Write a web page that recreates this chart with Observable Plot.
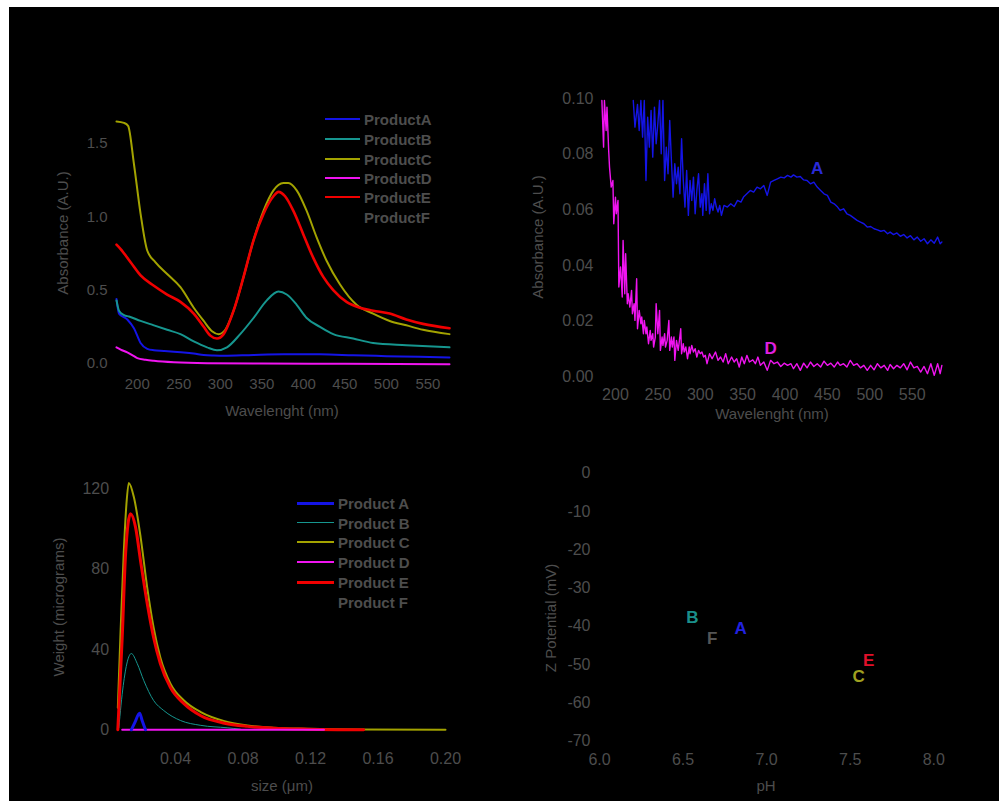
<!DOCTYPE html>
<html><head><meta charset="utf-8">
<script src="https://cdn.jsdelivr.net/npm/d3@7"></script>
<script src="https://cdn.jsdelivr.net/npm/@observablehq/plot@0.6"></script>
<style>
body{margin:0;background:#fff;}
#root{position:relative;width:1000px;height:801px;background:#fff;overflow:hidden;font-family:"Liberation Sans",Arial,sans-serif;}
#bg{position:absolute;left:9px;top:7px;width:990px;height:794px;background:#000;}
.abs{position:absolute;}
.ttl{position:absolute;color:#4d4d4d;font-size:15px;white-space:nowrap;transform:translate(-50%,-50%);}
.ttl.rot{transform:translate(-50%,-50%) rotate(-90deg);}
.leg{position:absolute;color:#4d4d4d;font-size:15px;font-weight:bold;white-space:nowrap;}
.leg .ln{position:absolute;height:0;}
.leg .tx{position:absolute;transform:translateY(-50%);}
</style></head>
<body><div id="root"><div id="bg"></div></div>
<script>
// ---------- shared ----------
const productNames = ["Product A","Product B","Product C","Product D","Product E","Product F"];
const legend1Labels = ["ProductA","ProductB","ProductC","ProductD","ProductE","ProductF"];
const productColors = ["#1414e6","#16968f","#a3a300","#f014f0","#f00000","#000000"];

// ---------- panel 1: UV-Vis spectra ----------
const p1WlA  = [175,178,188,196,204,212,220,232,244,256,268,280,292,304,340,376,420,460,500,540,576];
const p1AbsA = [0.44,0.34,0.30,0.24,0.14,0.10,0.09,0.085,0.08,0.075,0.068,0.058,0.054,0.052,0.058,0.062,0.062,0.056,0.05,0.045,0.041];
const p1WlB  = [175,178,184,190,204,220,236,252,268,284,296,308,324,340,356,370,380,392,404,420,436,460,484,524,576];
const p1AbsB = [0.43,0.36,0.33,0.32,0.29,0.26,0.23,0.20,0.15,0.11,0.09,0.11,0.20,0.31,0.43,0.49,0.47,0.40,0.31,0.25,0.20,0.17,0.14,0.125,0.11];
const p1WlC  = [175,184,189,196,204,212,222,236,252,268,280,290,298,306,316,328,340,352,364,376,382,392,404,416,428,444,464,484,504,524,544,576];
const p1AbsC = [1.65,1.64,1.62,1.36,1.02,0.77,0.69,0.61,0.52,0.38,0.29,0.22,0.20,0.23,0.36,0.59,0.84,1.04,1.18,1.23,1.23,1.18,1.04,0.86,0.70,0.54,0.40,0.34,0.29,0.26,0.23,0.20];
const p1WlD  = [175,180,188,196,200,210,220,244,284,350,450,576];
const p1AbsD = [0.11,0.095,0.075,0.05,0.036,0.025,0.018,0.008,0.002,0.0,-0.002,-0.005];
const p1WlE  = [175,180,192,204,220,236,252,268,280,288,296,304,316,328,340,352,364,370,378,388,400,412,424,436,452,468,484,504,524,544,576];
const p1AbsE = [0.81,0.78,0.69,0.60,0.53,0.47,0.42,0.34,0.25,0.19,0.17,0.20,0.36,0.59,0.84,1.02,1.14,1.17,1.14,1.04,0.88,0.72,0.59,0.50,0.42,0.38,0.36,0.34,0.30,0.27,0.24];
const p1XTicks = [200,250,300,350,400,450,500,550];
const p1YTicks = [0,0.5,1.0,1.5];

// ---------- panel 2: zoomed spectra A and D ----------
const p2WlA = [221,223,226,228,230,232,234,236,238,240,242,244,246,248,250,252,254,256,258,260,262,264,266,268,270,272,274,276,278,280,282,284,286,288,290,292,294,296,298,300,302,303,305,307,309,311,313,315,317,319,321,323,325,328,332,336,340,344,348,351,355,359,363,367,371,375,379,383,387,391,395,399,403,407,410,414,418,422,426,430,434,438,442,446,450,454,458,462,465,469,473,477,481,485,489,493,497,501,505,509,513,517,521,524,528,532,536,540,544,548,552,556,560,564,568,572,576,580,583,585];
const p2AbsA = [0.0994,0.0898,0.098,0.0886,0.0994,0.0862,0.0994,0.0706,0.0934,0.0826,0.0958,0.079,0.097,0.0838,0.091,0.0994,0.0802,0.0994,0.0706,0.0826,0.073,0.0922,0.0778,0.0646,0.0766,0.0694,0.0754,0.0658,0.0856,0.0706,0.061,0.0742,0.058,0.0706,0.0634,0.0718,0.0586,0.067,0.073,0.061,0.0658,0.058,0.0694,0.0598,0.073,0.0586,0.0622,0.0598,0.064,0.061,0.0592,0.0616,0.058,0.0616,0.061,0.0622,0.0612,0.0634,0.0628,0.0646,0.0658,0.067,0.0664,0.0682,0.0676,0.0688,0.0652,0.07,0.0706,0.0712,0.0718,0.0715,0.0724,0.0718,0.0726,0.0718,0.072,0.0708,0.0706,0.0694,0.07,0.0682,0.067,0.0658,0.0652,0.0628,0.0622,0.061,0.0598,0.0604,0.0586,0.058,0.0571,0.0562,0.0556,0.055,0.0538,0.054,0.0532,0.0528,0.0523,0.0526,0.0514,0.052,0.0511,0.0517,0.0505,0.0511,0.0499,0.0507,0.0492,0.0502,0.0487,0.0496,0.0478,0.0492,0.048,0.0502,0.0478,0.0484];
const p2WlD = [184,186,187,189,190,192,193,195,197,198,200,201,203,204,206,208,209,211,212,214,215,217,219,220,222,223,225,226,228,230,231,233,234,236,237,239,241,242,244,245,247,248,250,252,253,255,256,258,259,261,263,264,266,267,269,270,272,274,275,277,278,280,281,283,285,287,288,290,292,294,296,298,300,302,304,306,308,311,314,318,321,324,327,330,333,337,340,343,346,349,352,355,358,362,365,368,371,375,379,383,387,391,395,399,403,407,410,414,418,422,426,430,434,438,442,446,450,454,458,462,465,469,473,477,481,485,489,493,497,501,505,509,513,517,521,524,528,532,536,540,544,548,552,556,560,564,568,572,576,580,583,585];
const p2AbsD = [0.0994,0.0826,0.0994,0.0886,0.097,0.0814,0.0754,0.0682,0.0706,0.055,0.0646,0.0586,0.0634,0.0322,0.0394,0.0286,0.049,0.0298,0.0442,0.0262,0.0298,0.025,0.031,0.0226,0.0262,0.0202,0.0352,0.0172,0.0238,0.019,0.0214,0.0154,0.0202,0.0154,0.0178,0.0118,0.0166,0.013,0.0154,0.0106,0.0142,0.0262,0.0154,0.0238,0.0094,0.0142,0.0112,0.0154,0.0106,0.013,0.0202,0.0094,0.0142,0.0106,0.0142,0.0058,0.013,0.0094,0.0118,0.0172,0.0082,0.0118,0.0088,0.0106,0.0064,0.0106,0.0082,0.0112,0.0088,0.01,0.007,0.0094,0.0082,0.0088,0.007,0.0076,0.0046,0.0082,0.0064,0.0088,0.0058,0.007,0.0052,0.0082,0.0046,0.007,0.0052,0.0064,0.0034,0.007,0.0046,0.0076,0.0052,0.006,0.0046,0.007,0.004,0.0052,0.0022,0.0058,0.0046,0.0052,0.0036,0.0048,0.004,0.0046,0.0028,0.0046,0.0022,0.0048,0.0031,0.0052,0.0036,0.0046,0.0034,0.0055,0.004,0.0048,0.0034,0.0052,0.004,0.0046,0.0034,0.0058,0.004,0.0046,0.0031,0.004,0.0022,0.004,0.0024,0.0046,0.0031,0.004,0.0022,0.0043,0.0028,0.004,0.0031,0.0046,0.0024,0.0052,0.0031,0.0036,0.0016,0.0036,0.001,0.0046,0.0004,0.0046,0.001,0.004];
const p2Tags = ["A","D"];
const p2TagWl = [438,383];
const p2TagAbs = [0.0748,0.0100];
const p2TagColors = ["#2a2ad8","#e020e0"];
const p2XTicks = [200,250,300,350,400,450,500,550];
const p2YTicks = [0,0.02,0.04,0.06,0.08,0.10];

// ---------- panel 3: size distribution ----------
const p3SizeA = [0.0138,0.016,0.0187,0.0202,0.0222];
const p3WtA   = [0,3.8,8.3,4.6,0];
const p3SizeB = [0.0064,0.009,0.0138,0.0173,0.0212,0.027,0.033,0.043,0.055,0.0706,0.0785];
const p3WtB   = [1,22,38,33,24.5,14.6,9.6,4.6,2.2,1,0.3];
const p3SizeC = [0.0058,0.0073,0.0093,0.0109,0.0123,0.0153,0.0193,0.0232,0.027,0.031,0.037,0.045,0.055,0.069,0.0825,0.098,0.118,0.15,0.2];
const p3WtC   = [11,46,88,112.5,123,116,96,71,51,36,23,14.6,8.8,4.3,2.2,1,0.5,0.1,0];
const p3SizeD = [0.0084,0.128];
const p3WtD   = [0,0];
const p3SizeE = [0.0058,0.0084,0.0104,0.0133,0.0163,0.0193,0.0232,0.027,0.031,0.037,0.045,0.055,0.069,0.0825,0.098,0.118,0.1515];
const p3WtE   = [0,46,87.6,107.6,101,84,63,46,33,21,13,7,3.3,1.7,0.8,0.3,0];
const p3XTicks = [0.04,0.08,0.12,0.16,0.20];
const p3YTicks = [0,40,80,120];

// ---------- panel 4: zeta potential vs pH ----------
const p4Tags = ["B","F","A","E","C"];
const p4pH   = [6.555,6.674,6.844,7.611,7.551];
const p4Zeta = [-37.6,-43.2,-40.6,-48.9,-53.1];
const p4Colors = ["#1a8f8a","#555555","#2222e0","#e0102a","#a0a020"];
const p4XTicks = [6.0,6.5,7.0,7.5,8.0];
const p4YTicks = [0,-10,-20,-30,-40,-50,-60,-70];

// ---------- helpers ----------
const root = document.getElementById("root");
const FONT = "'Liberation Sans', Arial, sans-serif";
const TXT = "#4d4d4d";
function rows(xs, ys) { return xs.map((x, i) => ({x, y: ys[i]})); }
function panel(box, xDom, xPix, yDom, yPix, o) {
  const svg = Plot.plot({
    width: box.width, height: box.height,
    marginLeft: xPix[0] - box.left, marginRight: box.left + box.width - xPix[1],
    marginTop: yPix[1] - box.top, marginBottom: box.top + box.height - yPix[0],
    style: {background: "transparent", color: TXT, fontSize: o.fs + "px", fontFamily: FONT, overflow: "visible"},
    x: {domain: xDom, ticks: o.xt, tickFormat: o.xf, tickSize: 0, tickPadding: o.xpad, label: null},
    y: {domain: yDom, ticks: o.yt, tickFormat: o.yf, tickSize: 0, tickPadding: o.ypad, label: null},
    marks: o.marks
  });
  svg.style.position = "absolute";
  svg.style.left = box.left + "px";
  svg.style.top = box.top + "px";
  svg.style.overflow = "visible";
  root.appendChild(svg);
}
function title(text, x, y, rot) {
  const d = document.createElement("div");
  d.className = "ttl" + (rot ? " rot" : "");
  d.style.left = x + "px"; d.style.top = y + "px";
  d.textContent = text;
  root.appendChild(d);
}
function legend(labels, colors, widths, lineX, lineW, textX, ys) {
  const g = document.createElement("div");
  g.className = "leg"; g.style.left = "0px"; g.style.top = "0px";
  labels.forEach((lab, i) => {
    const ln = document.createElement("div");
    ln.className = "ln";
    ln.style.left = lineX + "px"; ln.style.width = lineW + "px";
    ln.style.top = (ys[i] - widths[i] / 2) + "px";
    ln.style.borderTop = widths[i] + "px solid " + colors[i];
    g.appendChild(ln);
    const tx = document.createElement("div");
    tx.className = "tx"; tx.style.left = textX + "px"; tx.style.top = ys[i] + "px";
    tx.textContent = lab;
    g.appendChild(tx);
  });
  root.appendChild(g);
}

// ---------- panel 1 ----------
{
  const series = [[p1WlA,p1AbsA],[p1WlB,p1AbsB],[p1WlC,p1AbsC],[p1WlD,p1AbsD],[p1WlE,p1AbsE]];
  const widths = [2,2,2,2,2.6];
  const order = [3,0,1,2,4];
  panel({left:40, top:80, width:420, height:345}, [175,576], [116,449], [-0.05,1.75], [370.3,106.3], {
    fs: 15, xt: p1XTicks, xf: d3.format("d"), xpad: 8, yt: p1YTicks, yf: d3.format(".1f"), ypad: 9,
    marks: order.map(i => Plot.line(rows(series[i][0], series[i][1]), {x: "x", y: "y", stroke: productColors[i], strokeWidth: widths[i], curve: "monotone-x"}))
  });
  title("Absorbance (A.U.)", 62, 233, true);
  title("Wavelenght (nm)", 282, 410, false);
  legend(legend1Labels, productColors, [2.5,2,2,2,2.5,2], 325, 35, 364, [119.3,139.3,158.7,178.3,197.3,216.7]);
}

// ---------- panel 2 ----------
{
  panel({left:500, top:80, width:460, height:345}, [180,590], [598.0,945.6], [-0.003,0.10], [384.3,98.3], {
    fs: 16, xt: p2XTicks, xf: d3.format("d"), xpad: 4, yt: p2YTicks, yf: d3.format(".2f"), ypad: 5,
    marks: [
      Plot.line(rows(p2WlD, p2AbsD), {x: "x", y: "y", stroke: productColors[3], strokeWidth: 1.4, clip: true}),
      Plot.line(rows(p2WlA, p2AbsA), {x: "x", y: "y", stroke: productColors[0], strokeWidth: 1.4, clip: true}),
      Plot.text(p2Tags.map((t, i) => ({t, x: p2TagWl[i], y: p2TagAbs[i], c: p2TagColors[i]})),
        {x: "x", y: "y", text: "t", fill: d => d.c, fontSize: 17, fontWeight: "bold"})
    ]
  });
  title("Absorbance (A.U.)", 537, 237, true);
  title("Wavelenght (nm)", 772, 413, false);
}

// ---------- panel 3 ----------
{
  const series = [[p3SizeA,p3WtA],[p3SizeB,p3WtB],[p3SizeC,p3WtC],[p3SizeD,p3WtD],[p3SizeE,p3WtE]];
  const widths = [3,1,2,2,3];
  const order = [1,2,4,3,0];
  panel({left:40, top:470, width:420, height:330}, [0.003,0.2], [112.6,445], [-2,125], [733.3,478.4], {
    fs: 16, xt: p3XTicks, xf: d3.format(".2f"), xpad: 19, yt: p3YTicks, yf: d3.format("d"), ypad: 4,
    marks: order.map(i => Plot.line(rows(series[i][0], series[i][1]), {x: "x", y: "y", stroke: productColors[i], strokeWidth: widths[i], curve: "monotone-x"}))
  });
  title("Weight (micrograms)", 58, 607, true);
  title("size (\u03bcm)", 282, 785, false);
  legend(productNames, productColors, [3,1.5,2,2,3,2], 297, 37, 338, [503.3,522.7,542.3,562.3,582.3,601.7]);
}

// ---------- panel 4 ----------
{
  panel({left:500, top:450, width:460, height:350}, [6,8], [599,933.3], [-70,0], [740.7,472.7], {
    fs: 16, xt: p4XTicks, xf: d3.format(".1f"), xpad: 12, yt: p4YTicks, yf: d => String(d), ypad: 9,
    marks: [
      Plot.text(p4Tags.map((t, i) => ({t, x: p4pH[i], y: p4Zeta[i], c: p4Colors[i]})),
        {x: "x", y: "y", text: "t", fill: d => d.c, fontSize: 17, fontWeight: "bold"})
    ]
  });
  title("Z Potential (mV)", 550, 618, true);
  title("pH", 766, 785, false);
}
</script></body></html>
